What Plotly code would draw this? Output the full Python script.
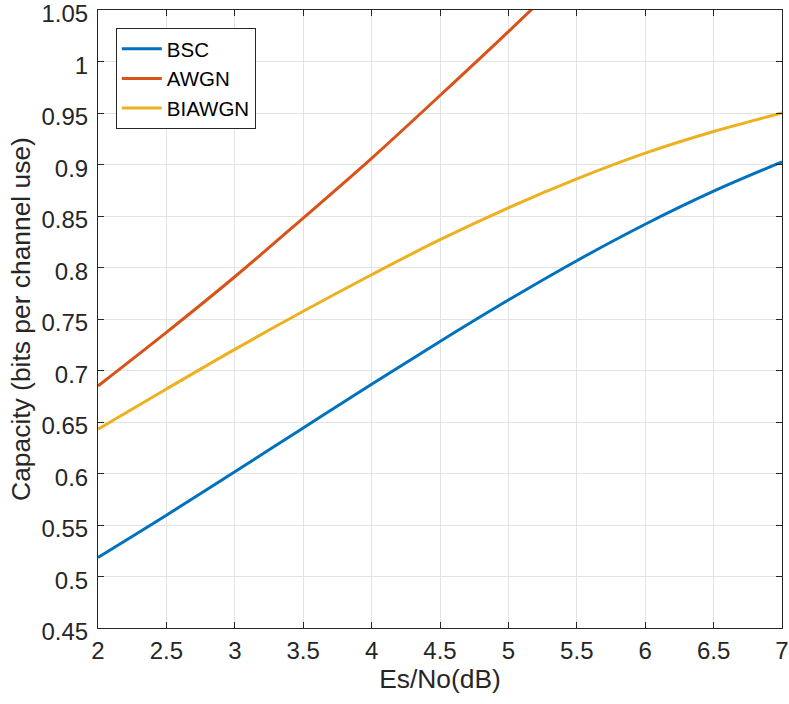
import plotly.graph_objects as go

# Es/No in dB
snr_db = [2.0, 2.5, 3.0, 3.5, 4.0, 4.5, 5.0, 5.5, 6.0, 6.5, 7.0]

# capacities in bits per channel use
bsc = [0.5185, 0.5595, 0.6017, 0.6442, 0.6866, 0.7282, 0.7684, 0.8066, 0.8420, 0.8741, 0.9025]
awgn = [0.685, 0.737, 0.791, 0.848, 0.906, 0.967, 1.029, 1.093]
biawgn = [0.643, 0.682, 0.7205, 0.7575, 0.793, 0.827, 0.858, 0.886, 0.911, 0.932, 0.950]

x_ticks = [2, 2.5, 3, 3.5, 4, 4.5, 5, 5.5, 6, 6.5, 7]
y_ticks = [0.45, 0.5, 0.55, 0.6, 0.65, 0.7, 0.75, 0.8, 0.85, 0.9, 0.95, 1.0, 1.05]

FONT = "Liberation Sans, Arial, Helvetica, sans-serif"
AX = "#262626"
GRID = "#e3e3e3"
TICK_SIZE = 24
TITLE_SIZE = 26.4

fig = go.Figure()
fig.add_trace(go.Scatter(x=snr_db, y=bsc, name="BSC", mode="lines",
                         line=dict(color="#0072BD", width=3, shape="spline")))
fig.add_trace(go.Scatter(x=snr_db[:len(awgn)], y=awgn, name="AWGN", mode="lines",
                         line=dict(color="#D95319", width=3, shape="spline")))
fig.add_trace(go.Scatter(x=snr_db, y=biawgn, name="BIAWGN", mode="lines",
                         line=dict(color="#EDB120", width=3, shape="spline")))

axis_common = dict(
    showline=True, linecolor=AX, linewidth=1, mirror="ticks",
    ticks="inside", ticklen=6, tickcolor=AX, tickwidth=1,
    showgrid=True, gridcolor=GRID, gridwidth=1, zeroline=False,
    ticklabeloverflow="allow", automargin=False,
    tickfont=dict(family=FONT, size=TICK_SIZE, color=AX),
)

fig.update_xaxes(range=[2, 7], tickvals=x_ticks,
                 ticktext=[f"{v:g}" for v in x_ticks],
                 ticklabelstandoff=1,
                 title=dict(text="Es/No(dB)", font=dict(family=FONT, size=TITLE_SIZE, color=AX), standoff=6),
                 **axis_common)
fig.update_yaxes(range=[0.45, 1.0500001], tickvals=y_ticks,
                 ticktext=[f"{v:g}" for v in y_ticks],
                 ticklabelstandoff=4, ticklabelshift=4,
                 title=dict(text="Capacity (bits per channel use)", font=dict(family=FONT, size=TITLE_SIZE, color=AX), standoff=3),
                 **axis_common)

fig.update_layout(
    width=789, height=704,
    margin=dict(l=98, r=7, t=10, b=76),
    paper_bgcolor="white", plot_bgcolor="white",
    font=dict(family=FONT, color=AX),
    legend=dict(x=0.026, y=0.971, xanchor="left", yanchor="top",
                bgcolor="white", bordercolor=AX, borderwidth=1,
                font=dict(family=FONT, size=20.5, color="#000000"),
                itemwidth=40, tracegroupgap=0),
    showlegend=True,
)

fig.write_html("out.html")
